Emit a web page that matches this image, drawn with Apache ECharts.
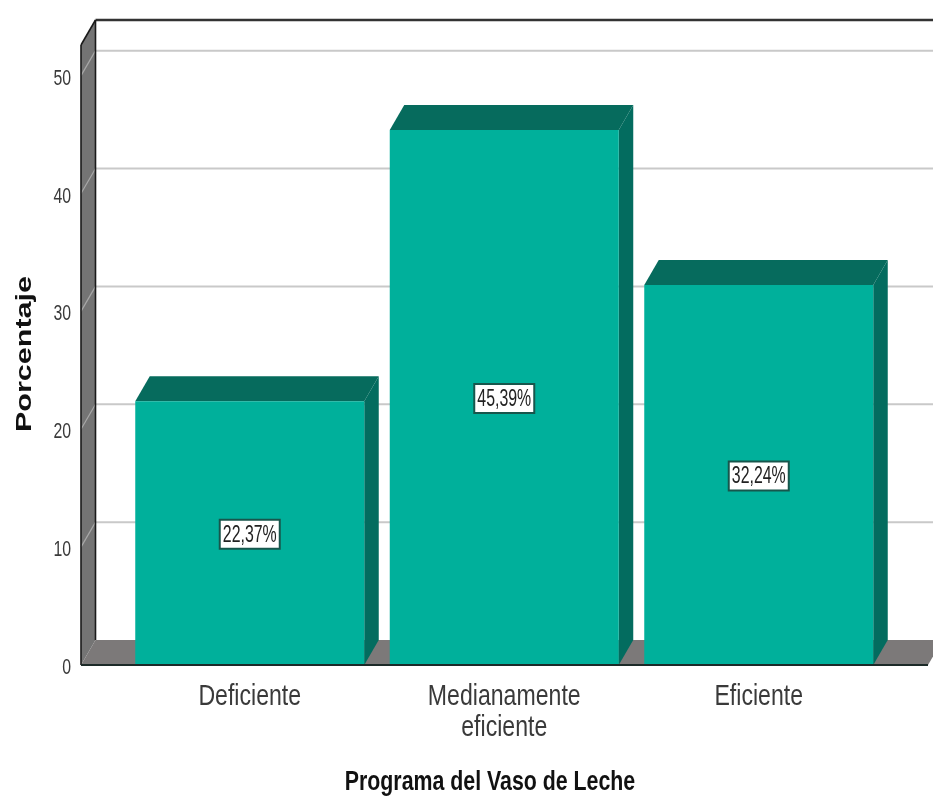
<!DOCTYPE html>
<html><head><meta charset="utf-8">
<style>html,body{margin:0;padding:0;background:#fff}#c{width:933px;height:796px}</style>
<script src="https://cdn.jsdelivr.net/npm/echarts@6/dist/echarts.min.js"></script>
</head><body><div id="c"></div>
<script>
const categories = ['Deficiente', 'Medianamente\neficiente', 'Eficiente'];
const percentages = [22.37, 45.39, 32.24];
const tickValues = [0, 10, 20, 30, 40, 50];
const axisMax = 52.6;
const xTitle = 'Programa del Vaso de Leche';
const yTitle = 'Porcentaje';

const DX = 14.5, DY = 25, WALL_X = 81, FLOOR_RIGHT = 928;
const SANS = '"Liberation Sans",Arial,sans-serif';
const FACE = '#00B09B', SIDE = '#036C5F', TOP = '#066B5D', WALL = '#747474', FLOOR = '#7C7979';

function poly(points, fill) {
  return { type: 'polygon', shape: { points }, style: { fill }, silent: true };
}
function line(x1, y1, x2, y2, stroke, lineWidth) {
  return { type: 'line', shape: { x1, y1, x2, y2 }, style: { stroke, lineWidth }, silent: true };
}
function narrowText(text, x, y, fontSize, scaleX, align, fill) {
  return {
    type: 'text', x, y, scaleX, silent: true,
    style: { text, fontFamily: SANS, fontSize, fill, align, verticalAlign: 'middle' }
  };
}

function renderBackdrop(params, api) {
  const W = params.coordSys.x + params.coordSys.width + 47;
  const y0 = api.coord([0, 0])[1], yT = api.coord([0, axisMax])[1];
  const kids = [
    poly([[WALL_X, yT], [WALL_X + DX, yT - DY], [WALL_X + DX, y0 - DY], [WALL_X, y0]], WALL),
    poly([[WALL_X, y0], [WALL_X + DX, y0 - DY], [FLOOR_RIGHT + DX, y0 - DY], [FLOOR_RIGHT, y0]], FLOOR)
  ];
  tickValues.forEach(v => {
    const y = api.coord([0, v])[1];
    if (v > 0) {
      kids.push(line(WALL_X + DX, y - DY, W, y - DY, '#c9c9c9', 2));
      kids.push(line(WALL_X, y, WALL_X + DX, y - DY, '#a8a8a8', 1.2));
    }
    kids.push(narrowText(String(v), 71, y + 3, 22, 0.72, 'right', '#3a3a3a'));
  });
  kids.push(line(WALL_X + DX, yT - DY, W, yT - DY, '#333333', 2.6));
  kids.push(line(WALL_X, yT, WALL_X + DX, yT - DY, '#1a1a1a', 1.6));
  kids.push(line(WALL_X, yT, WALL_X, y0, '#1a1a1a', 1.6));
  kids.push(line(WALL_X + DX, yT - DY, WALL_X + DX, y0 - DY, '#1a1a1a', 1.6));
  return { type: 'group', children: kids };
}

function renderDepth(params, api) {
  const top = api.coord([api.value(0), api.value(1)]);
  const base = api.coord([api.value(0), 0]);
  const half = 114.5;
  const l = top[0] - half, r = top[0] + half;
  return { type: 'group', children: [
    poly([[r, top[1]], [r + DX, top[1] - DY], [r + DX, base[1] - DY], [r, base[1]]], SIDE),
    poly([[l, top[1]], [l + DX, top[1] - DY], [r + DX, top[1] - DY], [r, top[1]]], TOP)
  ]};
}

function renderOverlay(params, api) {
  const y0 = api.coord([0, 0])[1];
  const kids = [line(WALL_X, y0, FLOOR_RIGHT, y0, '#1c2a28', 2)];
  categories.forEach((c, i) => {
    const x = api.coord([i, 0])[0];
    kids.push({
      type: 'text', x, y: y0 + 16, scaleX: 0.77, silent: true,
      style: { text: c, fontFamily: SANS, fontSize: 30, fill: '#3a3a3a', align: 'center', verticalAlign: 'top', lineHeight: 31 }
    });
  });
  percentages.forEach((v, i) => {
    const p = api.coord([i, v / 2]);
    const w = 60, h = 29;
    kids.push({ type: 'rect', shape: { x: p[0] - w / 2, y: p[1] - h / 2 + 1, width: w, height: h },
      style: { fill: '#fff', stroke: '#17564c', lineWidth: 2 }, silent: true });
    kids.push(narrowText(v.toFixed(2).replace('.', ',') + '%', p[0], p[1] + 2, 23, 0.69, 'center', '#222'));
  });
  return { type: 'group', children: kids };
}

const chart = echarts.init(document.getElementById('c'), null, { renderer: 'canvas' });
chart.setOption({
  animation: false,
  backgroundColor: '#fff',
  grid: { left: 122.5, right: 47, top: 45, bottom: 131 },
  xAxis: {
    type: 'category', data: categories,
    axisLine: { show: false }, axisTick: { show: false }, axisLabel: { show: false }
  },
  yAxis: {
    type: 'value', min: 0, max: axisMax, interval: 10,
    axisLine: { show: false }, axisTick: { show: false }, splitLine: { show: false }, axisLabel: { show: false }
  },
  graphic: [{
    type: 'text', x: 25, y: 354, rotation: Math.PI / 2, scaleX: 1.42, z: 10,
    style: { text: yTitle, fontFamily: SANS, fontWeight: 'bold', fontSize: 21.5, fill: '#111', align: 'center', verticalAlign: 'middle' }
  }, {
    type: 'text', x: 490, y: 783, scaleX: 0.79, z: 10,
    style: { text: xTitle, fontFamily: SANS, fontWeight: 'bold', fontSize: 27, fill: '#111', align: 'center', verticalAlign: 'middle' }
  }],
  series: [
    { type: 'custom', z: 1, data: [[0, 0]], clip: false, renderItem: renderBackdrop, silent: true },
    { type: 'custom', z: 2, data: percentages.map((v, i) => [i, v]), clip: false, renderItem: renderDepth, silent: true },
    { type: 'bar', z: 3, data: percentages, barWidth: 229, itemStyle: { color: FACE } },
    { type: 'custom', z: 4, data: [[0, 0]], clip: false, renderItem: renderOverlay, silent: true }
  ]
});
</script></body></html>
